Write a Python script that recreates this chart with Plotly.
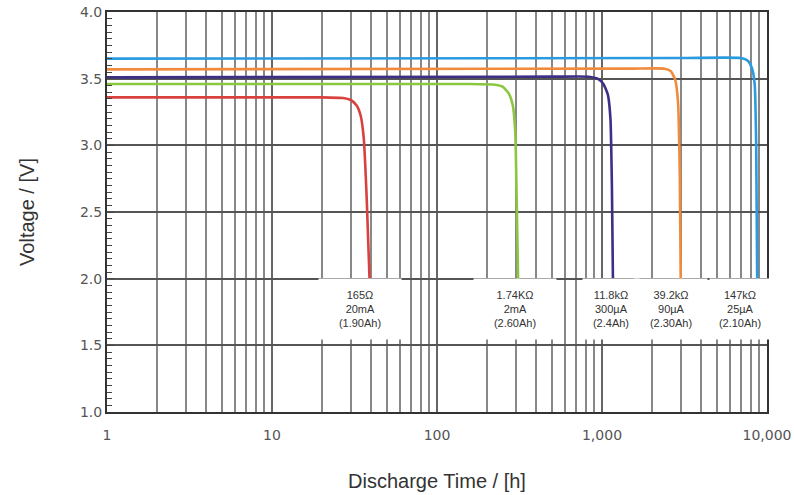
import math
import plotly.graph_objects as go

# ---- data ----
red_t = [1, 20, 27, 30, 32.5, 34.5, 36, 37.5, 39]
red_v = [3.36, 3.36, 3.355, 3.34, 3.3, 3.22, 3.05, 2.6, 2.0]

green_t = [1, 150, 225, 250, 272, 288, 298, 304, 310]
green_v = [3.46, 3.46, 3.455, 3.44, 3.39, 3.3, 3.1, 2.6, 2.0]

purple_t = [1, 500, 830, 940, 1020, 1085, 1125, 1148, 1165]
purple_v = [3.51, 3.515, 3.515, 3.5, 3.46, 3.38, 3.2, 2.7, 2.0]

orange_t = [1, 1500, 2400, 2620, 2780, 2890, 2960, 3000]
orange_v = [3.57, 3.575, 3.575, 3.555, 3.49, 3.32, 2.8, 2.0]

blue_t = [1, 3000, 6900, 7650, 8100, 8420, 8600, 8720]
blue_v = [3.65, 3.655, 3.655, 3.635, 3.58, 3.46, 3.0, 2.0]

series_colors = ["#d9413f", "#8cc63f", "#3b2f86", "#f08a3c", "#2b9be0"]

label_texts = [
    "165Ω<br>20mA<br>(1.90Ah)",
    "1.74KΩ<br>2mA<br>(2.60Ah)",
    "11.8kΩ<br>300µA<br>(2.4Ah)",
    "39.2kΩ<br>90µA<br>(2.30Ah)",
    "147kΩ<br>25µA<br>(2.10Ah)",
]
label_t = [34, 295, 1135, 2630, 6850]
label_v = 1.77
label_w = [82, 82, 56, 72, 60]

x_tickvals = [1, 10, 100, 1000, 10000]
x_ticktext = ["1", "10", "100", "1,000", "10,000"]
minor_mult = [2, 3, 4, 5, 6, 7, 8, 9]

fig = go.Figure()
all_series = [(red_t, red_v), (green_t, green_v), (purple_t, purple_v),
              (orange_t, orange_v), (blue_t, blue_v)]
for (t, v), c in zip(all_series, series_colors):
    fig.add_trace(go.Scatter(x=t, y=v, mode="lines",
                             line=dict(color=c, width=2.6, shape="spline", smoothing=0.5),
                             showlegend=False, hoverinfo="skip"))

for txt, t, w in zip(label_texts, label_t, label_w):
    fig.add_annotation(x=math.log10(t), y=label_v, xref="x", yref="y",
                       text=txt, showarrow=False, bgcolor="white",
                       width=w, height=60, borderpad=0,
                       font=dict(family="Liberation Sans, Arial", size=11, color="#333"))

minor_vals = [m * 10 ** d for d in range(4) for m in minor_mult]

fig.update_layout(
    width=794, height=495,
    margin=dict(l=107, r=27, t=12, b=83),
    paper_bgcolor="white", plot_bgcolor="white",
    xaxis=dict(
        type="log", range=[0, 4], automargin=False,
        tickmode="array", tickvals=x_tickvals, ticktext=x_ticktext,
        showgrid=True, gridcolor="#666", gridwidth=1.5,
        minor=dict(tickmode="array", tickvals=minor_vals, showgrid=True,
                   gridcolor="#888", gridwidth=1.5, ticks=""),
        showline=True, mirror=True, linecolor="#333", linewidth=2,
        ticks="", zeroline=False, ticklabeloverflow="allow", ticklabelstandoff=9,
        tickfont=dict(family="DejaVu Sans", size=14, color="#555"),
        title=dict(text="Discharge Time / [h]", standoff=32,
                   font=dict(family="Liberation Sans, Arial", size=20, color="#333")),
    ),
    yaxis=dict(
        range=[1, 4], dtick=0.5, tick0=1, tickformat=".1f", automargin=False,
        showgrid=True, gridcolor="#555", gridwidth=1.5,
        minor=dict(dtick=0.05, ticks="inside", ticklen=5, tickcolor="#444",
                   showgrid=False),
        ticks="inside", ticklen=7, tickcolor="#444",
        showline=True, mirror=True, linecolor="#333", linewidth=2,
        zeroline=False, ticklabeloverflow="allow",
        tickfont=dict(family="DejaVu Sans", size=14, color="#555"),
        title=dict(text="Voltage / [V]", standoff=40,
                   font=dict(family="Liberation Sans, Arial", size=20, color="#333")),
    ),
)

fig.write_html("out.html", config={"displayModeBar": False},
               post_script="document.body.style.margin='0';")
